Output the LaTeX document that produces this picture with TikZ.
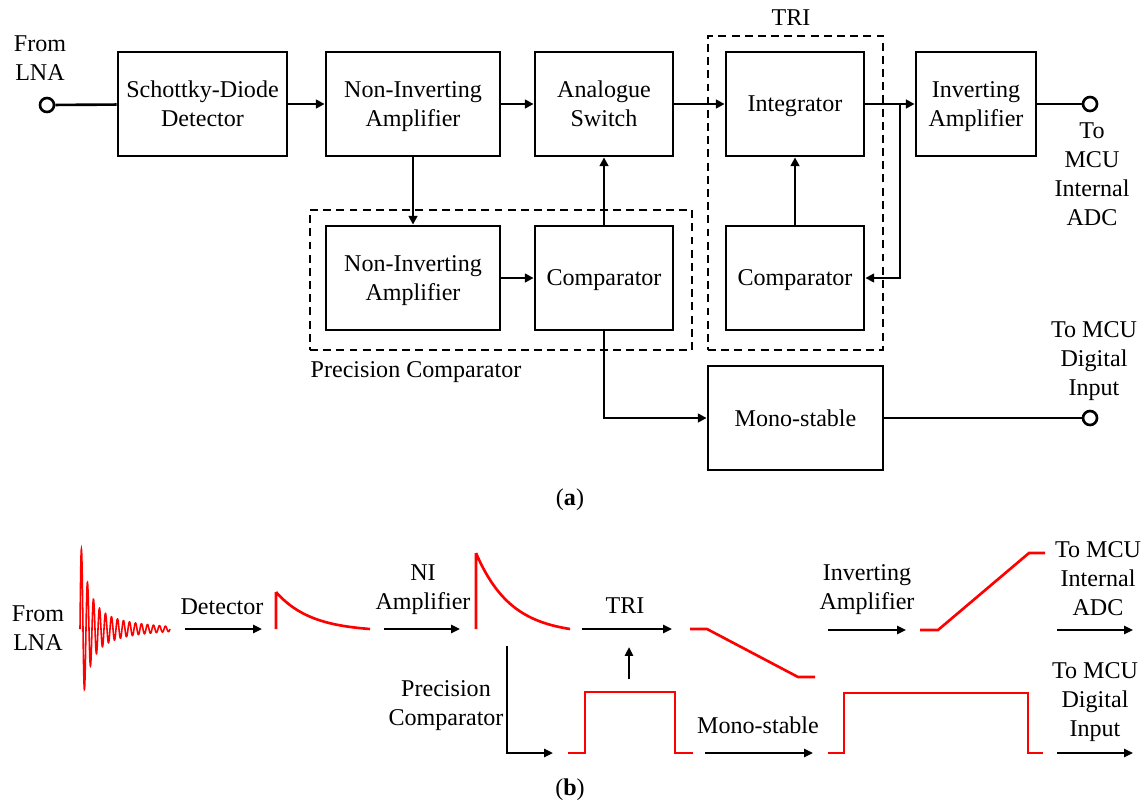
\documentclass[tikz,border=0pt]{standalone}
\usepackage{fontspec}
\setmainfont{Liberation Serif}
\usetikzlibrary{arrows.meta}
\newlength\upx
\setlength\upx{0.02cm}
\begin{document}
\begin{tikzpicture}[x=0.02cm,y=-0.02cm,
  font=\fontsize{13.7}{16.5}\selectfont,
  blk/.style={draw, line width=1.6pt, align=center, inner sep=0pt, text depth=0pt, minimum height=104\upx},
  dbox/.style={draw, line width=1.5pt, dash pattern=on 4.5pt off 3pt, inner sep=0pt},
  arr/.style={line width=1.5pt, -{Triangle[length=5pt,width=5pt]}},
  ln/.style={line width=1.5pt},
  term/.style={circle, draw, line width=1.5pt, minimum size=14\upx, inner sep=0pt, fill=white},
  lbl/.style={align=center, inner sep=0pt},
  sig/.style={red, line width=1.5pt},
  barr/.style={line width=1.3pt, -{Triangle[length=5pt,width=4.5pt]}}]
\useasboundingbox (0,0) rectangle (1141,805);
% ---------- (a) ----------
\node[dbox, minimum width=175\upx, minimum height=314\upx] (tri) at (795.5,193) {};
\node[dbox, minimum width=382\upx, minimum height=140\upx] (prec) at (501,280) {};
\node[blk, minimum width=169\upx] (sch) at (202.5,104) {Schottky-Diode\\Detector};
\node[blk, minimum width=174\upx] (nia) at (413,104) {Non-Inverting\\Amplifier};
\node[blk, minimum width=138\upx] (asw) at (604,104) {Analogue\\Switch};
\node[blk, minimum width=138\upx] (intg) at (795,104) {Integrator};
\node[blk, minimum width=120\upx] (inv) at (976,104) {Inverting\\Amplifier};
\node[blk, minimum width=174\upx] (nia2) at (413,278) {Non-Inverting\\Amplifier};
\node[blk, minimum width=138\upx] (cmpp) at (604,278) {Comparator};
\node[blk, minimum width=138\upx] (cmpt) at (795,278) {Comparator};
\node[blk, minimum width=175\upx] (mono) at (795.5,418) {Mono-stable};
\node[term] (in1) at (47,105) {};
\node[term] (out1) at (1090,104) {};
\node[term] (out2) at (1090,418) {};
\draw[ln] (in1) -- (sch);
\draw[arr] (sch) -- (nia);
\draw[arr] (nia) -- (asw);
\draw[arr] (asw) -- (intg);
\draw[arr] (intg) -- (inv);
\draw[ln] (inv) -- (out1);
\coordinate (br) at (900,104);
\draw[arr] (br) |- (cmpt.east);
\draw[arr] (cmpt) -- (intg);
\draw[arr] (nia) -- (nia2);
\draw[arr] (nia2) -- (cmpp);
\draw[arr] (cmpp) -- (asw);
\draw[arr] (cmpp.south) |- (mono.west);
\draw[ln] (mono) -- (out2);
\node[lbl] (lfrom) at (40,58) {From\\LNA};
\node[lbl] (ltri) at (791,18) {TRI};
\node[lbl] (lprec) at (416,372) {Precision Comparator};
\node[lbl] (lout1) at (1092,174) {To\\MCU\\Internal\\ADC};
\node[lbl] (lout2) at (1094,361) {To MCU\\Digital\\Input};
\node[lbl] (la) at (570,500) {(\textbf{a})};
% ---------- (b) ----------
\node[lbl] (bfrom) at (38,628) {From\\LNA};
\draw[red, line width=0.9pt] plot[domain=0:90, samples=700]
  ({80+\x},{629-(68*exp(-\x/8)+24*exp(-\x/40))*sin(60*\x)});
\coordinate (d1) at (185,629); \coordinate (d2) at (262,629);
\draw[barr] (d1) -- (d2);
\node[lbl] (ldet) at (222,607) {Detector};
\draw[sig] (276,629) -- (276,592) -- plot[domain=0:94, samples=60]
  ({276+\x},{629-37*(exp(-\x/35)-0.068)/0.932});
\coordinate (n1) at (384,629); \coordinate (n2) at (460,629);
\draw[barr] (n1) -- (n2);
\node[lbl] (lni) at (423,590) {NI\\Amplifier};
\draw[sig] (476,629) -- (476,553) -- plot[domain=0:94, samples=60]
  ({476+\x},{629-76*(exp(-\x/35)-0.068)/0.932});
\coordinate (t1) at (582,629); \coordinate (t2) at (672,629);
\draw[barr] (t1) -- (t2);
\node[lbl] (ltrib) at (625,606) {TRI};
\coordinate (u1) at (629,679); \coordinate (u2) at (629,647);
\draw[barr] (u1) -- (u2);
\draw[sig] (690,629) -- (707,629) -- (798,677) -- (815,677);
\node[lbl] (lpc) at (446,706) {Precision\\Comparator};
\coordinate (p1) at (507,646); \coordinate (p2) at (553,753);
\draw[barr] (p1) |- (p2);
\draw[sig] (568,753) -- (585,753) -- (585,692) -- (675,692) -- (675,753) -- (693,753);
\node[lbl] (lmono) at (758,725) {Mono-stable};
\coordinate (m1) at (705,753); \coordinate (m2) at (813,753);
\draw[barr] (m1) -- (m2);
\node[lbl] (linv) at (867,590) {Inverting\\Amplifier};
\coordinate (i1) at (828,630); \coordinate (i2) at (906,630);
\draw[barr] (i1) -- (i2);
\draw[sig] (920,630) -- (938,630) -- (1029,553) -- (1045,553);
\node[lbl] (ladc) at (1098,579) {To MCU\\Internal\\ADC};
\coordinate (o1) at (1057,630); \coordinate (o2) at (1133,630);
\draw[barr] (o1) -- (o2);
\draw[sig] (828,753) -- (844,753) -- (844,693) -- (1028,693) -- (1028,753) -- (1043,753);
\node[lbl] (ldig) at (1095,702) {To MCU\\Digital\\Input};
\coordinate (q1) at (1057,753); \coordinate (q2) at (1133,753);
\draw[barr] (q1) -- (q2);
\node[lbl] (lb) at (570,790) {(\textbf{b})};
\end{tikzpicture}
\end{document}
